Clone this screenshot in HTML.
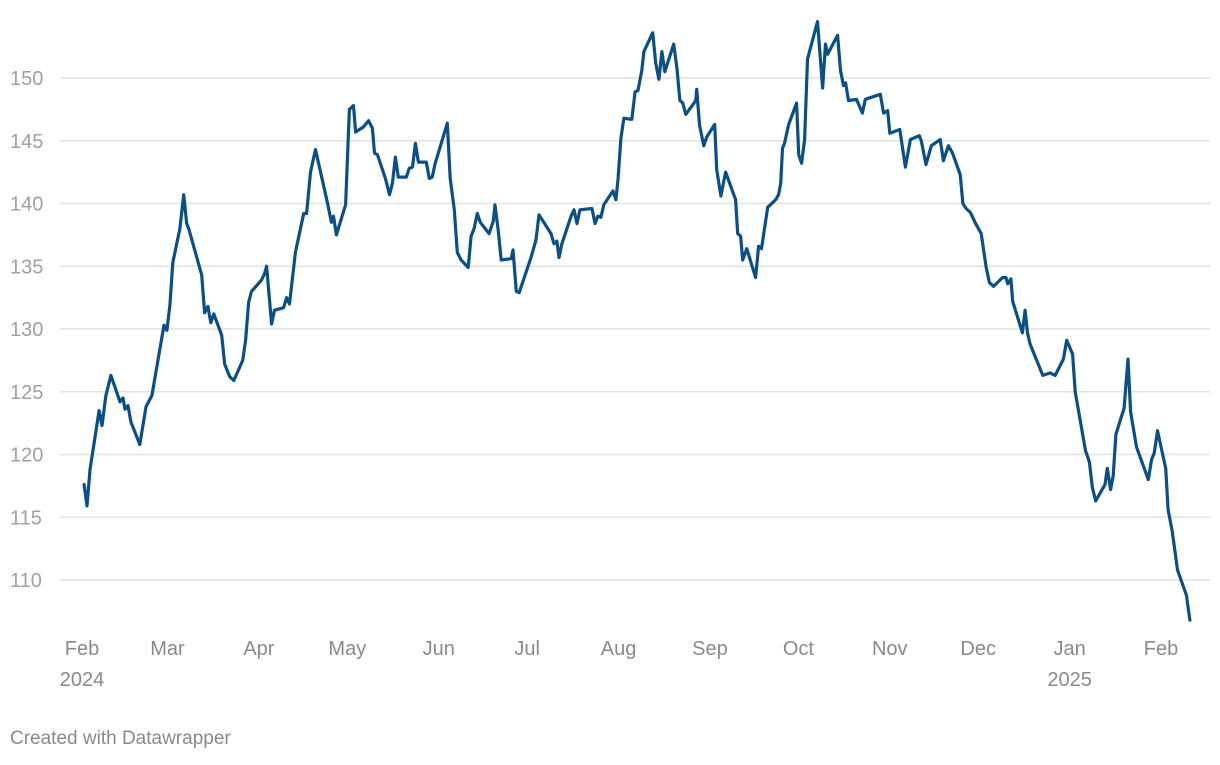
<!DOCTYPE html>
<html><head><meta charset="utf-8">
<style>
html,body{margin:0;padding:0;background:#fff;}
body{width:1220px;height:760px;overflow:hidden;font-family:"Liberation Sans",sans-serif;}
svg text{font-family:"Liberation Sans",sans-serif;}
</style></head>
<body>
<svg id="chart" width="1220" height="760" viewBox="0 0 1220 760" xmlns="http://www.w3.org/2000/svg">
<g id="grid"></g>
<g id="yaxis"></g>
<g id="xaxis"></g>
<path id="line" fill="none" stroke="#0b4f87" stroke-width="3.2" stroke-linejoin="round" stroke-linecap="round"></path>
<text x="10" y="744" font-size="19" fill="#8a8a8a">Created with Datawrapper</text>
</svg>
<script>
// days since Feb 1, 2024
const days = [0.7,1.7,2.7,5.8,6.8,8.1,9.8,12.9,13.9,14.6,15.6,16.6,19.6,21.7,23.7,27.8,28.8,29.8,30.8,33.2,34.5,35.5,36.2,40.6,41.6,42.7,43.7,44.7,47.4,48.4,50.1,51.5,54.5,55.5,56.5,57.5,60.9,61.9,62.6,64.3,65.3,68.4,69.4,70.4,72.4,75.2,76.2,77.5,79.2,83.3,84.6,85.3,86.3,89.4,90.7,92.1,92.8,95.5,97.2,98.5,99.2,100.2,102.9,104.3,105.3,106.3,107.3,110.0,111.0,112.1,113.1,114.1,116.8,117.8,118.8,119.8,123.9,124.9,126.3,127.3,128.6,131.0,132.0,133.0,134.1,135.1,138.1,139.5,140.1,141.2,142.2,145.6,146.2,147.3,148.3,152.3,154.0,155.0,159.1,160.1,161.1,161.8,162.8,165.9,166.9,167.9,168.9,173.0,174.0,175.0,176.0,177.0,180.1,181.1,181.8,182.8,183.8,186.5,187.6,188.6,189.9,190.6,193.6,194.6,195.7,196.7,197.7,200.7,201.8,202.8,203.8,204.8,208.2,208.5,209.5,210.9,211.9,214.6,215.3,216.7,218.3,221.7,222.4,223.4,224.1,225.5,228.5,229.5,230.5,232.6,235.3,236.3,237.0,237.6,238.3,239.7,242.4,243.1,244.1,245.1,246.1,249.5,251.2,252.2,252.9,256.3,257.3,258.3,259.0,260.0,262.7,264.7,265.7,270.8,271.9,273.3,274.0,277.4,279.3,281.0,284.0,284.7,286.3,288.1,291.1,292.2,293.9,295.3,297.9,298.8,299.9,301.3,302.9,305.0,306.7,307.8,309.2,312.3,313.4,314.0,315.1,315.7,319.0,319.9,320.7,321.6,323.5,325.9,328.4,330.1,332.9,334.0,336.0,336.9,340.4,341.7,342.7,343.8,347.0,347.8,348.9,349.8,350.7,353.5,354.8,355.7,357.7,361.7,362.8,363.7,364.8,367.6,368.4,369.8,371.6,374.6,375.8];
const values = [117.6,115.9,118.8,123.5,122.3,124.7,126.3,124.2,124.5,123.6,123.9,122.6,120.8,123.8,124.7,130.3,129.9,131.9,135.3,138.0,140.7,138.4,138.0,134.3,131.3,131.8,130.5,131.2,129.5,127.2,126.2,125.9,127.5,129.1,132.1,133.0,133.9,134.4,135.0,130.4,131.5,131.7,132.5,132.0,136.1,139.2,139.2,142.5,144.3,140.0,138.5,139.0,137.5,139.9,147.5,147.8,145.7,146.1,146.6,146.0,144.0,143.9,142.0,140.7,141.6,143.7,142.1,142.1,142.8,142.9,144.8,143.3,143.3,142.0,142.1,143.2,146.4,142.0,139.5,136.1,135.5,134.9,137.4,138.0,139.2,138.5,137.6,138.6,139.9,137.8,135.5,135.6,136.3,133.0,132.9,135.7,137.1,139.1,137.6,136.8,137.0,135.7,136.8,139.0,139.5,138.4,139.5,139.6,138.4,139.0,138.9,139.9,141.0,140.3,141.9,145.2,146.8,146.7,148.9,149.0,150.6,152.1,153.6,151.2,149.9,152.1,150.5,152.7,150.8,148.2,148.0,147.1,148.2,149.1,146.2,144.6,145.3,146.3,142.7,140.6,142.5,140.3,137.6,137.4,135.5,136.4,134.1,136.6,136.4,139.7,140.3,140.7,141.6,144.4,144.8,146.3,148.0,143.9,143.2,145.1,151.5,154.5,149.2,152.7,151.9,153.4,150.6,149.4,149.6,148.2,148.3,147.2,148.3,148.7,147.2,147.4,145.6,145.9,142.9,145.1,145.4,145.0,143.1,144.6,145.1,143.4,144.6,144.0,142.3,140.0,139.6,139.3,138.5,137.6,134.9,133.7,133.4,134.1,134.1,133.6,134.0,132.2,129.7,131.5,129.7,128.8,127.7,126.3,126.5,126.3,127.6,129.1,128.0,125.0,120.3,119.4,117.4,116.3,117.6,118.9,117.2,118.3,121.6,123.7,127.6,123.4,120.6,118.0,119.6,120.1,121.9,118.9,115.6,113.9,110.8,108.8,106.8];
const yTicks = [110,115,120,125,130,135,140,145,150];
const monthLabels = ["Feb","Mar","Apr","May","Jun","Jul","Aug","Sep","Oct","Nov","Dec","Jan","Feb"];
const monthDays = [0,29,60,90,121,151,182,213,243,274,304,335,366];
const yearLabels = ["2024","","","","","","","","","","","2025",""];

const NS="http://www.w3.org/2000/svg";
function xs(d){return 82 + d*(1161-82)/366;}
function ys(v){return 78 + (150-v)*(580-78)/40;}

const grid=document.getElementById('grid');
const yaxis=document.getElementById('yaxis');
yTicks.forEach(t=>{
  const l=document.createElementNS(NS,'line');
  
  
  l.setAttribute('x1',60);l.setAttribute('x2',1210);
  l.setAttribute('y1',ys(t));l.setAttribute('y2',ys(t));
  l.setAttribute('stroke','#e2e2e2');l.setAttribute('stroke-width','1.5');
  grid.appendChild(l);
  const tx=document.createElementNS(NS,'text');
  
  
  tx.setAttribute('x',10);tx.setAttribute('y',ys(t)+7);
  tx.setAttribute('font-size','20');tx.setAttribute('fill','#a0a0a0');
  tx.textContent=t;
  yaxis.appendChild(tx);
});
const xaxis=document.getElementById('xaxis');
monthLabels.forEach((m,i)=>{
  const x=xs(monthDays[i]);
  const tx=document.createElementNS(NS,'text');
  
  
  tx.setAttribute('x',x);tx.setAttribute('y',655);
  tx.setAttribute('text-anchor','middle');
  tx.setAttribute('font-size','20');tx.setAttribute('fill','#8a8a8a');
  tx.textContent=m;
  xaxis.appendChild(tx);
  if(yearLabels[i]){
    const ty=document.createElementNS(NS,'text');
    
    
    ty.setAttribute('x',x);ty.setAttribute('y',686);
    ty.setAttribute('text-anchor','middle');
    ty.setAttribute('font-size','20');ty.setAttribute('fill','#8a8a8a');
    ty.textContent=yearLabels[i];
    xaxis.appendChild(ty);
  }
});
let d='';
days.forEach((dd,i)=>{d+=(i?'L':'M')+xs(dd).toFixed(1)+','+ys(values[i]).toFixed(1);});
document.getElementById('line').setAttribute('d',d);
</script>
</body></html>
